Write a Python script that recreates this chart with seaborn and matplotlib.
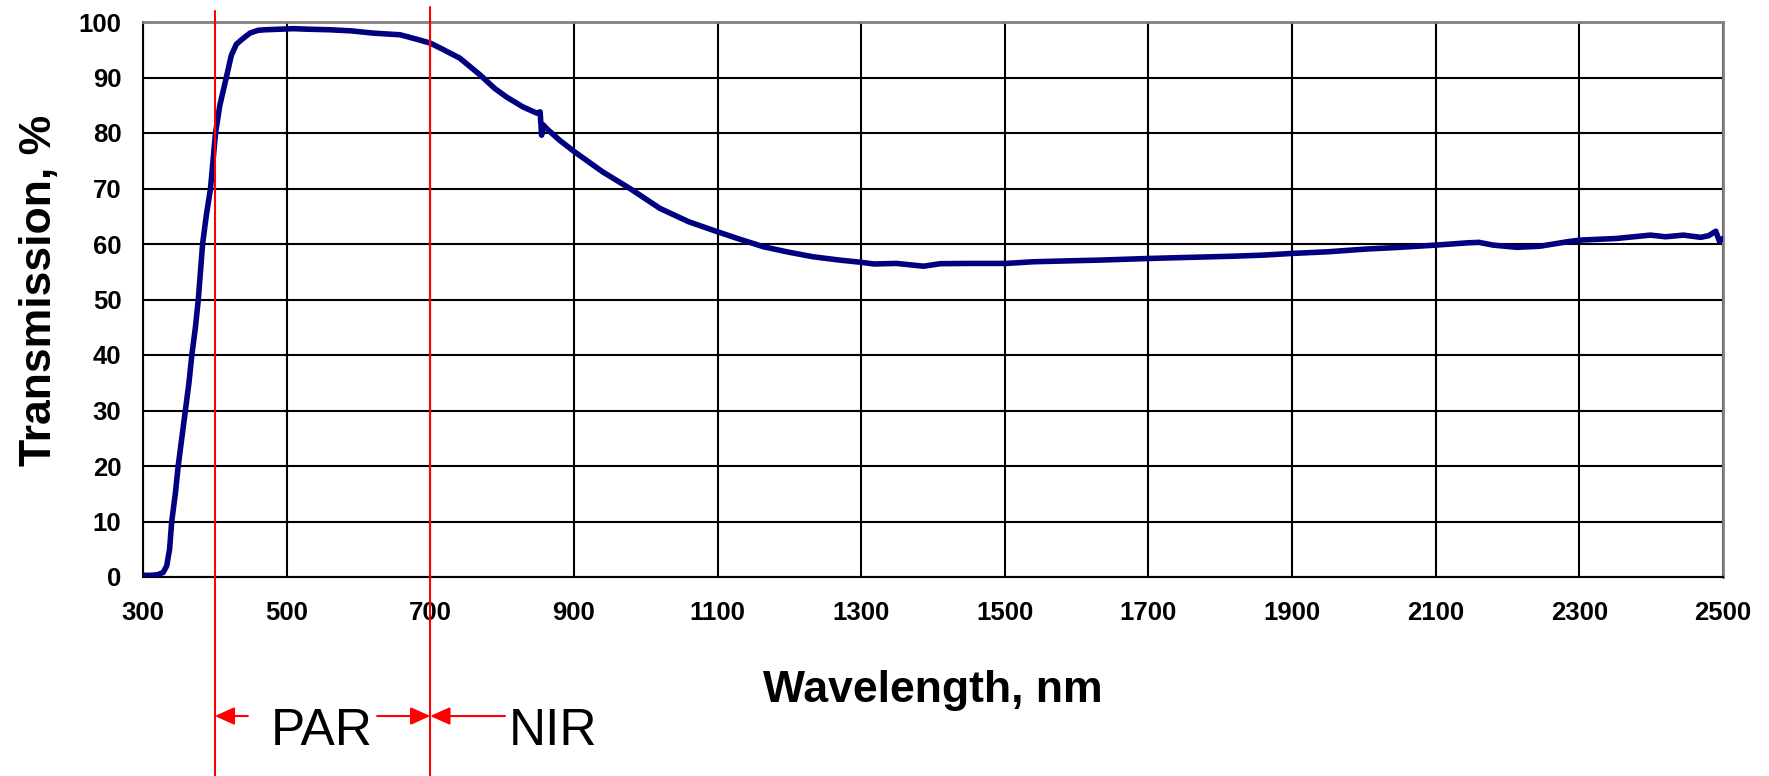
import matplotlib
matplotlib.use("Agg")
import matplotlib.pyplot as plt
import matplotlib.transforms as mtransforms
import seaborn as sns
import pandas as pd

# ---- data ----
wavelength = [300, 310, 320, 328, 333, 337, 340, 345, 349, 354, 359, 364, 368, 373,
              377, 380, 383, 388, 394, 397.5, 401, 407, 416, 423, 430, 439, 449, 460,
              470, 490, 510, 530, 560, 590, 620, 658, 681, 700, 714, 741, 769, 790,
              806, 829, 848, 853, 855, 857, 862, 880, 901, 940, 978, 1020, 1060, 1100,
              1130, 1164, 1200, 1233, 1270, 1300, 1318, 1349, 1387, 1410, 1450, 1502,
              1540, 1600, 1633, 1702, 1760, 1818, 1860, 1900, 1950, 2004, 2050, 2100,
              2143, 2160, 2180, 2213, 2245, 2283, 2301, 2352, 2399, 2420, 2445, 2469,
              2480, 2490, 2495, 2500]
transmission = [0.3, 0.3, 0.4, 0.8, 2.0, 5.0, 10, 15, 20, 25, 30, 35, 40, 45,
                50, 55, 60, 65, 70, 75, 80, 85, 90, 94, 96, 97, 98, 98.5,
                98.6, 98.7, 98.8, 98.7, 98.6, 98.4, 98.0, 97.7, 96.9, 96.2, 95.3, 93.5, 90.5, 88,
                86.5, 84.7, 83.6, 83.8, 79.6, 81.5, 80.8, 78.7, 76.6, 73.0, 70.0, 66.4, 64.0, 62.2,
                60.9, 59.5, 58.5, 57.7, 57.1, 56.7, 56.4, 56.5, 56.0, 56.45, 56.5, 56.5,
                56.8, 57.0, 57.1, 57.4, 57.6, 57.8, 58.0, 58.3, 58.6, 59.1, 59.4, 59.8,
                60.2, 60.3, 59.8, 59.4, 59.6, 60.4, 60.7, 61.0, 61.6, 61.3, 61.6, 61.2,
                61.5, 62.3, 60.5, 61.0]
x_ticks = list(range(300, 2501, 200))
y_ticks = list(range(0, 101, 10))
band_edges = [400, 700]          # PAR: 400-700 nm, NIR: > 700 nm
band_labels = ["PAR", "NIR"]

df = pd.DataFrame({"Wavelength": wavelength, "Transmission": transmission})

sns.set_style("white")
plt.rcParams["font.family"] = ["Liberation Sans", "DejaVu Sans"]
plt.rcParams["text.color"] = "black"
plt.rcParams["axes.labelcolor"] = "black"
plt.rcParams["xtick.color"] = "black"
plt.rcParams["ytick.color"] = "black"

fig = plt.figure(figsize=(17.69, 7.76), dpi=100)
ax = fig.add_axes([143 / 1769, 1 - 577 / 776, 1580 / 1769, 555 / 776])

sns.lineplot(data=df, x="Wavelength", y="Transmission", ax=ax,
             color="#000080", linewidth=4, zorder=3)

ax.set_xlim(300, 2500)
ax.set_ylim(0, 100)
ax.set_xticks(x_ticks)
ax.set_yticks(y_ticks)
ax.grid(True, color="black", linewidth=1.5, zorder=0)
ax.set_axisbelow(True)

for side in ["left", "bottom"]:
    ax.spines[side].set_color("black")
    ax.spines[side].set_linewidth(1.5)
for side in ["top", "right"]:
    ax.spines[side].set_color("#808080")
    ax.spines[side].set_linewidth(2.0)

ax.tick_params(axis="both", which="major", direction="out", length=6.5,
               width=1.5, color="black", labelcolor="black", labelsize=18.5)
ax.tick_params(axis="x", pad=11)
ax.tick_params(axis="y", pad=9)
for lab in ax.get_xticklabels() + ax.get_yticklabels():
    lab.set_fontweight("bold")

ax.set_xlabel("Wavelength, nm", fontsize=32, fontweight="bold", color="black")
ax.set_ylabel("Transmission, %", fontsize=32, fontweight="bold", color="black")
ax.xaxis.set_label_coords(0.5, -0.168)
ax.yaxis.set_label_coords(-0.0525, 0.517)

# red band boundary lines extending beyond the axes
ax.axvline(band_edges[0], ymin=-0.36, ymax=1.02, color="red", linewidth=1.5,
           clip_on=False, zorder=4)
ax.axvline(band_edges[1], ymin=-0.36, ymax=1.027, color="red", linewidth=1.5,
           clip_on=False, zorder=4)

trans = mtransforms.blended_transform_factory(ax.transData, ax.transAxes)
arrow_y = -0.2505
aprops = dict(arrowstyle="-|>,head_length=0.8,head_width=0.36", color="red",
              lw=1.5, mutation_scale=15, shrinkA=0, shrinkB=0)
# PAR arrows
ax.annotate("", xy=(band_edges[0], arrow_y), xytext=(446, arrow_y),
            xycoords=trans, textcoords=trans, arrowprops=aprops, annotation_clip=False)
ax.annotate("", xy=(band_edges[1], arrow_y), xytext=(626, arrow_y),
            xycoords=trans, textcoords=trans, arrowprops=aprops, annotation_clip=False)
# NIR arrow
ax.annotate("", xy=(band_edges[1], arrow_y), xytext=(804, arrow_y),
            xycoords=trans, textcoords=trans, arrowprops=aprops, annotation_clip=False)

ax.text(549, -0.3027, band_labels[0], transform=trans, fontsize=37,
        ha="center", va="baseline", color="black", clip_on=False)
ax.text(871, -0.3027, band_labels[1], transform=trans, fontsize=37,
        ha="center", va="baseline", color="black", clip_on=False)

fig.savefig("out.png", dpi=100)
